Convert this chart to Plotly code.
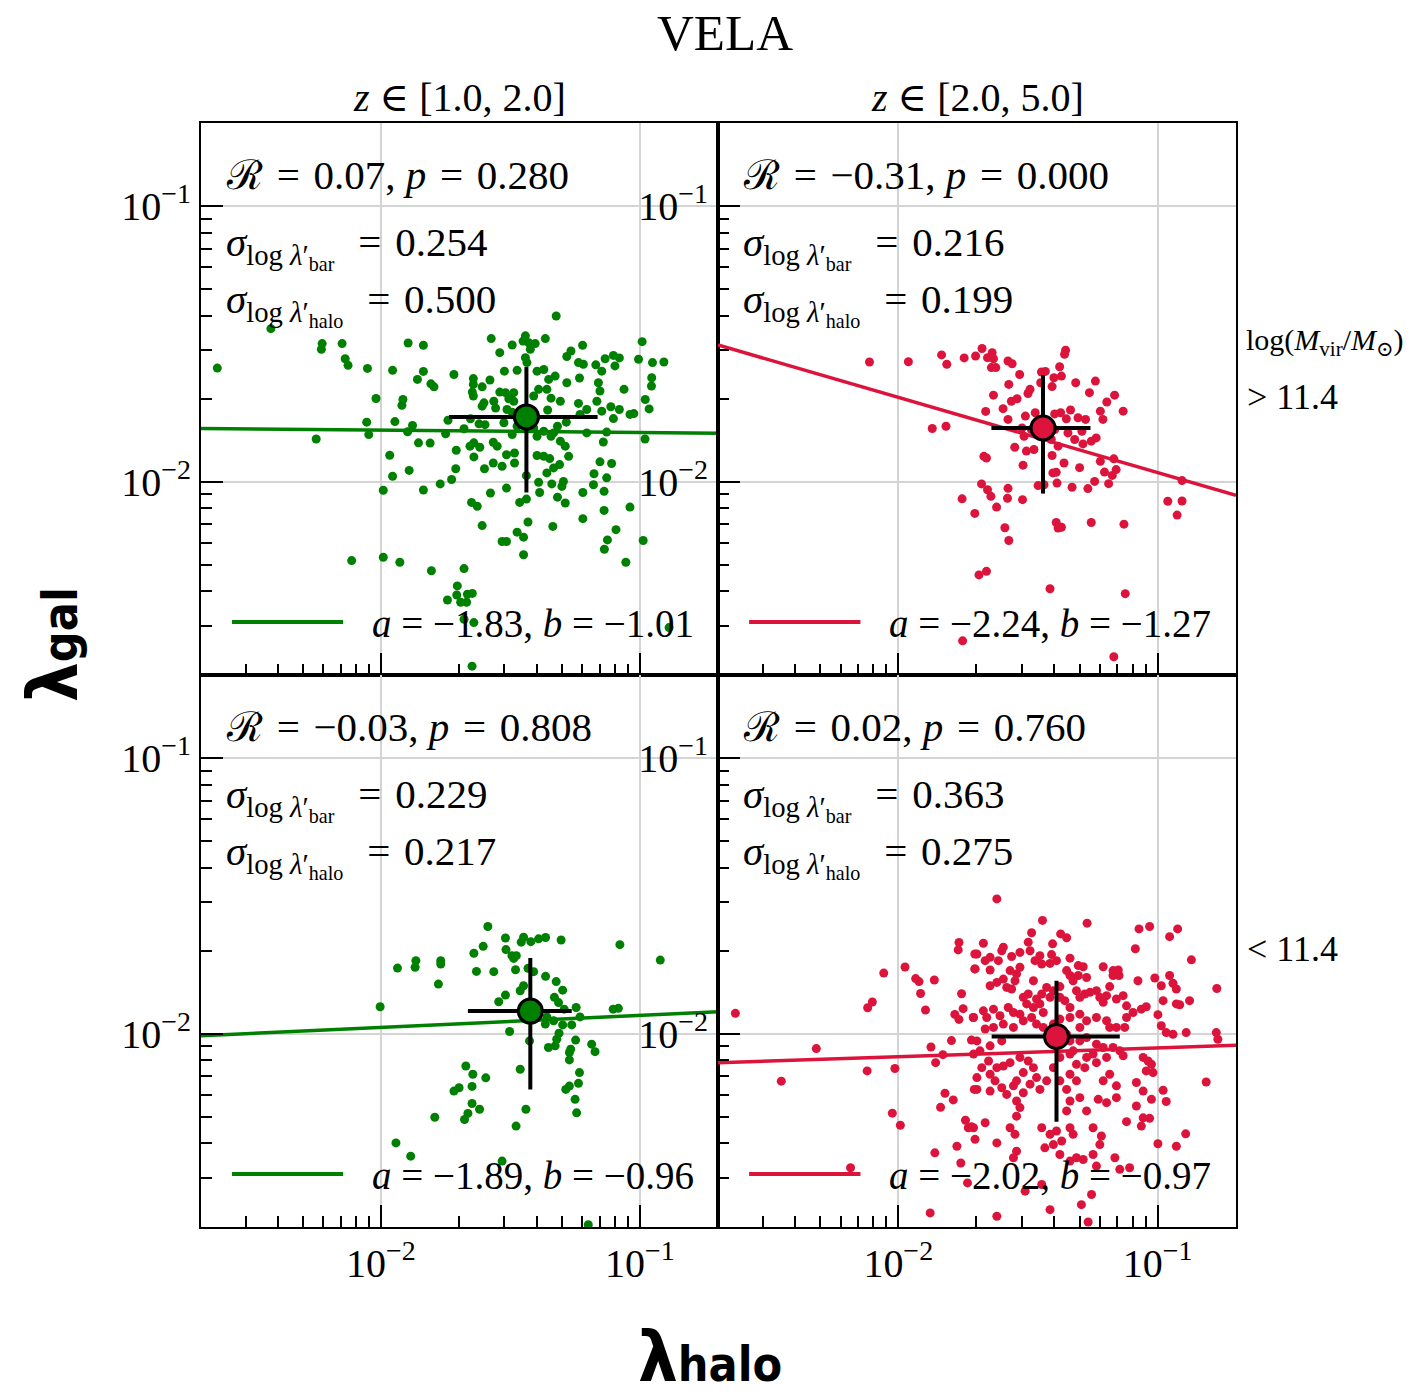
import numpy as np
import plotly.graph_objects as go

# ---------------- data (log10 values) ----------------
# top-left: z in [1,2], logM > 11.4
tl_pts = [
(-1.323,-1.399),(-2.425,-1.445),(-2.632,-1.588),(-2.227,-1.499),(-2.230,-1.520),(-2.150,-1.499),(-2.138,-1.554),(-2.127,-1.578),
(-2.052,-1.589),(-1.955,-1.596),(-1.895,-1.497),(-1.836,-1.505),(-2.019,-1.698),(-1.915,-1.702),(-1.919,-1.723),(-1.859,-1.629),
(-1.836,-1.600),(-1.807,-1.645),(-1.795,-1.656),(-1.718,-1.611),(-1.574,-1.481),(-1.493,-1.504),(-1.541,-1.532),(-1.442,-1.471),
(-1.451,-1.490),(-1.429,-1.496),(-1.404,-1.499),(-1.423,-1.520),(-1.442,-1.550),(-1.436,-1.568),(-1.365,-1.481),(-1.282,-1.546),
(-1.266,-1.526),(-1.221,-1.505),(-1.237,-1.568),(-1.218,-1.574),(-1.233,-1.624),(-1.170,-1.576),(-1.134,-1.554),(-1.102,-1.542),
(-1.079,-1.551),(-1.096,-1.580),(-1.005,-1.556),(-0.991,-1.492),(-0.951,-1.568),(-0.907,-1.566),(-0.954,-1.623),(-0.955,-1.653),
(-1.061,-1.665),(-0.979,-1.702),(-0.964,-1.736),(-1.038,-1.756),(-1.023,-1.753),(-1.079,-1.738),(-1.112,-1.728),(-1.102,-1.771),
(-1.147,-1.744),(-1.166,-1.708),(-1.154,-1.671),(-1.160,-1.641),(-1.147,-1.599),(-1.205,-1.738),(-1.237,-1.716),(-1.231,-1.756),
(-1.282,-1.641),(-1.307,-1.708),(-1.343,-1.697),(-1.359,-1.665),(-1.327,-1.617),(-1.352,-1.629),(-1.371,-1.593),(-1.397,-1.599),
(-1.391,-1.665),(-1.410,-1.689),(-1.356,-1.740),(-1.523,-1.599),(-1.474,-1.596),(-1.643,-1.626),(-1.643,-1.647),(-1.647,-1.675),
(-1.643,-1.689),(-1.609,-1.656),(-1.579,-1.631),(-1.541,-1.675),(-1.519,-1.677),(-1.487,-1.677),(-1.506,-1.699),(-1.487,-1.708),
(-1.602,-1.714),(-1.564,-1.708),(-1.609,-1.726),(-1.557,-1.733),(-1.513,-1.738),(-1.493,-1.748),(-1.654,-1.772),(-1.679,-1.808),
(-1.750,-1.826),(-1.741,-1.777),(-1.598,-1.793),(-1.621,-1.790),(-1.525,-1.786),(-1.474,-1.799),(-1.493,-1.829),(-1.410,-1.805),
(-1.397,-1.835),(-1.371,-1.817),(-1.333,-1.823),(-1.318,-1.799),(-1.284,-1.784),(-1.343,-1.835),(-1.307,-1.853),(-1.288,-1.871),
(-1.275,-1.908),(-1.205,-1.823),(-1.128,-1.820),(-1.141,-1.856),(-0.980,-1.845),(-1.897,-1.819),(-1.878,-1.796),(-1.946,-1.782),
(-2.055,-1.784),(-2.047,-1.829),(-2.250,-1.845),(-1.855,-1.859),(-1.810,-1.860),(-1.966,-1.904),(-1.955,-1.980),(-1.891,-1.959),
(-1.991,-2.031),(-1.836,-2.030),(-1.771,-2.008),(-1.727,-1.992),(-1.711,-1.953),(-1.709,-1.886),(-1.656,-1.871),(-1.641,-1.859),
(-1.618,-1.875),(-1.641,-1.910),(-1.566,-1.857),(-1.551,-1.871),(-1.515,-1.902),(-1.484,-1.896),(-1.566,-1.932),(-1.600,-1.953),
(-1.532,-1.944),(-1.484,-1.932),(-1.397,-1.905),(-1.371,-1.908),(-1.348,-1.916),(-1.359,-1.968),(-1.333,-1.950),(-1.310,-1.938),
(-1.391,-2.002),(-1.340,-2.008),(-1.295,-1.999),(-1.301,-2.017),(-1.387,-2.039),(-1.438,-1.978),(-1.577,-2.041),(-1.515,-2.023),
(-1.220,-2.039),(-1.179,-2.011),(-1.177,-1.971),(-1.154,-1.928),(-1.109,-1.934),(-1.128,-1.986),(-1.138,-2.035),(-1.038,-2.092),
(-1.138,-2.104),(-1.220,-2.134),(-1.650,-2.075),(-1.628,-2.089),(-1.609,-2.159),(-1.464,-2.075),(-1.438,-2.063),(-1.432,-2.146),
(-1.318,-2.056),(-1.288,-2.077),(-1.336,-2.162),(-1.474,-2.183),(-1.449,-2.201),(-1.532,-2.217),(-1.515,-2.217),(-1.449,-2.265),
(-1.092,-2.174),(-1.125,-2.211),(-1.137,-2.245),(-0.987,-2.213),(-1.054,-2.292),(-2.113,-2.286),(-1.991,-2.274),(-1.927,-2.292),
(-1.805,-2.323),(-1.679,-2.315),(-1.705,-2.378),(-1.707,-2.411),(-1.666,-2.408),(-1.647,-2.405),(-1.743,-2.429),(-1.692,-2.437),
(-1.669,-2.437),(-1.679,-2.499),(-1.641,-2.511),(-1.648,-2.669),(-0.887,-2.529),
]

# top-right: z in [2,5], logM > 11.4
tr_pts = [
(-2.111,-1.566),(-1.961,-1.565),(-1.833,-1.540),(-1.813,-1.574),(-1.746,-1.551),(-1.702,-1.544),(-1.677,-1.517),(-1.656,-1.550),
(-1.638,-1.532),(-1.633,-1.554),(-1.641,-1.586),(-1.624,-1.586),(-1.577,-1.562),(-1.561,-1.572),(-1.532,-1.611),(-1.574,-1.647),
(-1.633,-1.686),(-1.663,-1.745),(-1.596,-1.735),(-1.564,-1.708),(-1.542,-1.699),(-1.500,-1.680),(-1.492,-1.665),(-1.451,-1.641),
(-1.448,-1.602),(-1.433,-1.600),(-1.407,-1.655),(-1.400,-1.623),(-1.371,-1.617),(-1.378,-1.583),(-1.359,-1.538),(-1.355,-1.523),
(-1.316,-1.641),(-1.263,-1.677),(-1.240,-1.635),(-1.196,-1.711),(-1.166,-1.686),(-1.133,-1.744),(-1.221,-1.744),(-1.211,-1.774),
(-1.336,-1.740),(-1.307,-1.768),(-1.278,-1.774),(-1.352,-1.772),(-1.374,-1.750),(-1.397,-1.754),(-1.510,-1.762),(-1.472,-1.750),
(-1.577,-1.774),(-1.523,-1.805),(-1.515,-1.835),(-1.346,-1.823),(-1.292,-1.817),(-1.320,-1.847),(-1.288,-1.863),(-1.256,-1.853),
(-1.237,-1.841),(-1.551,-1.875),(-1.506,-1.889),(-1.477,-1.883),(-1.407,-1.905),(-1.361,-1.932),(-1.384,-1.871),(-1.670,-1.908),
(-1.660,-1.914),(-1.519,-1.940),(-1.301,-1.949),(-1.221,-1.926),(-1.169,-1.917),(-1.205,-1.965),(-1.175,-1.977),(-1.160,-1.956),
(-1.404,-1.968),(-1.391,-1.966),(-1.388,-2.005),(-1.330,-2.020),(-1.269,-2.025),(-1.243,-1.999),(-1.189,-2.007),(-0.906,-1.996),
(-1.869,-1.807),(-1.816,-1.799),(-1.679,-2.008),(-1.656,-2.029),(-1.643,-2.053),(-1.577,-2.024),(-1.579,-2.060),(-1.521,-2.065),
(-1.621,-2.092),(-1.754,-2.062),(-1.705,-2.115),(-1.461,-2.014),(-1.438,-2.011),(-0.961,-2.071),(-0.906,-2.070),(-0.925,-2.121),
(-1.391,-2.148),(-1.384,-2.168),(-1.371,-2.165),(-1.256,-2.148),(-1.130,-2.154),(-1.589,-2.167),(-1.574,-2.213),(-1.689,-2.338),
(-1.660,-2.325),(-1.415,-2.388),(-1.125,-2.406),(-1.752,-2.577),(-1.169,-2.635),(-1.487,-1.811),(-1.410,-1.847),(-1.397,-1.811),
]

# bottom-left: z in [1,2], logM < 11.4
bl_pts = [
(-1.587,-1.611),(-1.519,-1.653),(-1.449,-1.650),(-1.458,-1.668),(-1.421,-1.666),(-1.391,-1.656),(-1.364,-1.651),(-1.304,-1.660),
(-1.605,-1.683),(-1.641,-1.708),(-1.517,-1.695),(-1.494,-1.717),(-1.477,-1.717),(-1.487,-1.727),(-1.077,-1.677),(-0.921,-1.733),
(-1.936,-1.762),(-1.865,-1.735),(-1.868,-1.759),(-1.769,-1.735),(-1.769,-1.747),(-1.778,-1.820),(-1.631,-1.774),(-1.564,-1.775),
(-1.480,-1.768),(-1.432,-1.763),(-1.410,-1.775),(-1.364,-1.792),(-1.323,-1.811),(-1.298,-1.842),(-1.449,-1.826),(-1.462,-1.844),
(-1.519,-1.860),(-1.545,-1.884),(-1.330,-1.868),(-1.314,-1.887),(-1.292,-1.911),(-1.246,-1.905),(-1.231,-1.939),(-1.359,-1.939),
(-1.333,-1.953),(-1.298,-1.968),(-1.263,-1.968),(-1.365,-1.965),(-2.003,-1.902),(-1.103,-1.911),(-1.083,-1.908),(-1.503,-1.992),
(-1.426,-2.026),(-1.312,-1.998),(-1.321,-2.020),(-1.353,-2.050),(-1.327,-2.044),(-1.248,-2.023),(-1.267,-2.056),(-1.272,-2.068),
(-1.186,-2.038),(-1.173,-2.065),(-1.272,-2.095),(-1.462,-2.129),(-1.233,-2.141),(-1.237,-2.180),(-1.272,-2.190),(-1.286,-2.202),
(-1.250,-2.238),(-1.244,-2.287),(-1.672,-2.117),(-1.645,-2.147),(-1.595,-2.160),(-1.648,-2.191),(-1.718,-2.208),(-1.698,-2.196),
(-1.648,-2.253),(-1.619,-2.274),(-1.664,-2.289),(-1.677,-2.311),(-1.792,-2.303),(-1.440,-2.274),(-1.478,-2.335),(-1.942,-2.396),
(-1.885,-2.444),(-1.532,-2.462),(-1.199,-2.693),
]

# bottom-right: z in [2,5], logM < 11.4
br_pts = [
(-2.628,-1.926),(-2.451,-2.172),(-2.316,-2.054),(-2.184,-2.486),(-2.120,-2.135),(-2.118,-1.906),(-2.100,-1.885),(-2.056,-1.780),
(-2.013,-2.126),(-2.023,-2.288),(-1.992,-2.332),(-1.974,-1.758),(-1.933,-1.800),(-1.920,-1.811),(-1.914,-1.854),(-1.895,-1.914),
(-1.861,-1.805),(-1.874,-2.048),(-1.856,-2.105),(-1.828,-2.076),(-1.795,-2.025),(-1.820,-2.216),(-1.788,-2.240),(-1.837,-2.267),
(-1.766,-1.669),(-1.769,-1.696),(-1.756,-1.855),(-1.750,-1.909),(-1.782,-1.930),(-1.766,-1.948),(-1.859,-2.432),(-1.774,-2.408),
(-1.759,-2.469),(-1.741,-2.314),(-1.730,-2.341),(-1.718,-2.337),(-1.733,-2.541),(-1.877,-2.650),(-1.711,-1.941),(-1.718,-2.023),
(-1.705,-1.711),(-1.705,-1.765),(-1.707,-2.202),
(-1.620,-1.511),(-1.444,-1.589),(-1.272,-1.599),(-1.486,-1.634),(-1.374,-1.638),(-1.351,-1.652),(-1.072,-1.620),(-1.031,-1.611),
(-0.923,-1.620),(-0.954,-1.648),(-1.086,-1.692),(-0.870,-1.732),(-0.772,-1.836),(-1.672,-1.672),(-1.595,-1.686),(-1.601,-1.699),
(-1.499,-1.668),(-1.492,-1.699),(-1.531,-1.705),(-1.563,-1.720),(-1.697,-1.711),(-1.646,-1.723),(-1.665,-1.735),(-1.704,-1.765),
(-1.646,-1.769),(-1.614,-1.735),(-1.405,-1.674),(-1.409,-1.713),(-1.454,-1.717),(-1.473,-1.735),(-1.447,-1.747),(-1.415,-1.745),
(-1.390,-1.735),(-1.338,-1.726),(-1.306,-1.753),(-1.287,-1.757),(-1.274,-1.796),(-1.306,-1.789),(-1.338,-1.789),(-1.351,-1.771),
(-1.326,-1.808),(-1.210,-1.757),(-1.172,-1.771),(-1.152,-1.769),(-1.172,-1.789),(-1.149,-1.789),(-1.531,-1.759),(-1.544,-1.783),
(-1.569,-1.771),(-1.595,-1.802),(-1.620,-1.814),(-1.646,-1.826),(-1.582,-1.832),(-1.563,-1.838),(-1.550,-1.808),(-1.479,-1.808),
(-1.428,-1.832),(-1.447,-1.856),(-1.402,-1.844),(-1.377,-1.829),(-1.415,-1.868),(-1.467,-1.874),(-1.499,-1.856),(-1.518,-1.868),
(-1.505,-1.892),(-1.479,-1.905),(-1.454,-1.892),(-1.441,-1.923),(-1.377,-1.868),(-1.358,-1.880),(-1.338,-1.905),(-1.313,-1.844),
(-1.300,-1.868),(-1.281,-1.856),(-1.261,-1.850),(-1.236,-1.844),(-1.223,-1.868),(-1.185,-1.829),(-1.197,-1.862),(-1.210,-1.886),
(-1.159,-1.874),(-1.133,-1.862),(-1.120,-1.899),(-1.076,-1.808),(-1.011,-1.798),(-0.986,-1.826),(-0.954,-1.789),(-0.941,-1.817),
(-0.928,-1.838),(-1.044,-1.902),(-1.063,-1.911),(-1.095,-1.923),(-1.120,-1.941),(-0.999,-1.931),(-0.979,-1.880),(-0.928,-1.892),
(-0.915,-1.895),(-0.877,-1.880),(-0.986,-1.971),(-0.967,-1.996),(-0.941,-2.002),(-0.890,-1.996),(-0.774,-1.996),(-0.768,-2.020),
(-1.710,-1.941),(-1.672,-1.917),(-1.633,-1.911),(-1.659,-1.941),(-1.608,-1.935),(-1.576,-1.905),(-1.556,-1.923),(-1.531,-1.929),
(-1.595,-1.965),(-1.556,-1.977),(-1.633,-1.977),(-1.665,-1.983),(-1.697,-2.026),(-1.646,-2.044),(-1.601,-2.026),(-1.518,-1.953),
(-1.486,-1.941),(-1.467,-1.965),(-1.441,-1.977),(-1.402,-1.965),(-1.377,-1.947),(-1.338,-1.941),(-1.300,-1.929),(-1.274,-1.953),
(-1.236,-1.941),(-1.197,-1.953),(-1.185,-1.977),(-1.159,-1.977),(-1.127,-1.977),(-1.710,-2.074),(-1.685,-2.062),(-1.652,-2.099),
(-1.678,-2.123),(-1.697,-2.159),(-1.646,-2.147),(-1.620,-2.123),(-1.595,-2.117),(-1.627,-2.171),(-1.601,-2.196),(-1.646,-2.208),
(-1.697,-2.202),(-1.569,-2.105),(-1.531,-2.086),(-1.499,-2.099),(-1.479,-2.123),(-1.518,-2.141),(-1.544,-2.171),(-1.556,-2.189),
(-1.582,-2.220),(-1.518,-2.214),(-1.492,-2.183),(-1.467,-2.159),(-1.454,-2.202),(-1.428,-2.171),(-1.402,-2.123),(-1.377,-2.086),
(-1.338,-2.074),(-1.313,-2.111),(-1.326,-2.062),(-1.274,-2.086),(-1.249,-2.074),(-1.236,-2.105),(-1.281,-2.123),(-1.338,-2.147),
(-1.313,-2.171),(-1.351,-2.202),(-1.377,-2.171),(-1.300,-2.232),(-1.338,-2.244),(-1.351,-2.280),(-1.274,-2.280),(-1.229,-2.238),
(-1.197,-2.250),(-1.159,-2.232),(-1.159,-2.189),(-1.210,-2.171),(-1.185,-2.147),(-1.197,-2.086),(-1.146,-2.062),(-1.133,-2.080),
(-1.172,-2.050),(-1.056,-2.086),(-1.037,-2.099),(-1.024,-2.111),(-1.044,-2.135),(-1.018,-2.141),(-1.082,-2.177),(-1.056,-2.208),
(-1.024,-2.238),(-0.979,-2.205),(-0.967,-2.246),(-1.082,-2.262),(-1.056,-2.305),(-1.031,-2.307),(-1.120,-2.319),(-1.063,-2.335),
(-0.813,-2.175),(-0.892,-2.363),(-0.928,-2.408),(-0.999,-2.399),(-1.544,-2.244),(-1.531,-2.268),(-1.544,-2.299),(-1.569,-2.341),
(-1.550,-2.365),(-1.665,-2.323),(-1.710,-2.341),(-1.704,-2.383),(-1.620,-2.396),(-1.544,-2.426),(-1.556,-2.450),(-1.511,-2.571),
(-1.620,-2.662),(-1.447,-2.341),(-1.415,-2.365),(-1.390,-2.353),(-1.338,-2.341),(-1.326,-2.365),(-1.402,-2.402),(-1.435,-2.414),
(-1.370,-2.389),(-1.377,-2.438),(-1.338,-2.462),(-1.313,-2.450),(-1.287,-2.456),(-1.249,-2.438),(-1.217,-2.371),(-1.223,-2.402),
(-1.249,-2.341),(-1.236,-2.480),(-1.255,-2.583),(-1.294,-2.620),(-1.268,-2.683),(-1.415,-2.638),(-1.165,-2.450),(-1.146,-2.492),
(-1.108,-2.486),(-1.447,-2.547),(-1.351,-2.002),(-1.338,-2.026),(-1.300,-2.026),(-1.274,-2.014),(-1.236,-2.038),(-1.210,-2.050),
(-1.300,-1.977),
]

# mean points and bar extents (log10): [x_center, y_center, x_lo, x_hi, y_lo, y_hi]
mean_tl = [-1.438, -1.765, -1.737, -1.163, -2.039, -1.584]
mean_tr = [-1.442, -1.805, -1.641, -1.259, -2.043, -1.614]
mean_bl = [-1.423, -1.918, -1.664, -1.263, -2.202, -1.725]
mean_br = [-1.390, -2.010, -1.640, -1.146, -2.319, -1.808]

# fits: intercept a (label), slope of drawn line, label b
fit_a = [-1.83, -2.24, -1.89, -2.02]
fit_slope = [-0.0086, -0.273, 0.0435, 0.0316]
fit_b = [-1.01, -1.27, -0.96, -0.97]

R_vals = ["0.07", "\u22120.31", "\u22120.03", "0.02"]
p_vals = ["0.280", "0.000", "0.808", "0.760"]
sig_bar = ["0.254", "0.216", "0.229", "0.363"]
sig_halo = ["0.500", "0.199", "0.217", "0.275"]

col_titles = ["<i>z</i> \u2208 [1.0, 2.0]", "<i>z</i> \u2208 [2.0, 5.0]"]
row_labels = ["> 11.4", "< 11.4"]
major_ticks = [0.01, 0.1]
major_text = ["10<sup>\u22122</sup>", "10<sup>\u22121</sup>"]

GREEN = "#008000"
RED = "#dc143c"
colors = [GREEN, RED, GREEN, RED]
panels = [tl_pts, tr_pts, bl_pts, br_pts]
means = [mean_tl, mean_tr, mean_bl, mean_br]

X_RANGE = [-2.695, -0.698]
Y_RANGE = [-2.701, -0.699]

SERIF = "Liberation Serif, DejaVu Serif, serif"
SANS = "DejaVu Sans Condensed, DejaVu Sans, Noto Sans, sans-serif"
EQ = "\u2004=\u2004"

W, H = 1416, 1400
xdom = [[201 / W, 718 / W], [718 / W, 1236 / W]]
ydom = [[(H - 675) / H, (H - 123) / H], [(H - 1227) / H, (H - 675) / H]]

minor_vals = [m * 10.0 ** e for e in (-3, -2, -1) for m in range(2, 10)]

fig = go.Figure()

for i in range(4):
    k = i + 1
    xa = "x" if k == 1 else f"x{k}"
    ya = "y" if k == 1 else f"y{k}"
    pts = np.array(panels[i])
    fig.add_trace(go.Scatter(
        x=10 ** pts[:, 0], y=10 ** pts[:, 1], mode="markers", xaxis=xa, yaxis=ya,
        marker=dict(color=colors[i], size=9, line=dict(width=0)), showlegend=False, hoverinfo="skip"))
    lx = np.array(X_RANGE)
    ly = fit_a[i] + fit_slope[i] * lx
    fig.add_trace(go.Scatter(
        x=10 ** lx, y=10 ** ly, mode="lines", xaxis=xa, yaxis=ya,
        line=dict(color=colors[i], width=3.5), showlegend=False, hoverinfo="skip"))
    m = means[i]
    xc, yc = 10 ** m[0], 10 ** m[1]
    fig.add_trace(go.Scatter(
        x=[xc], y=[yc], mode="markers", xaxis=xa, yaxis=ya,
        marker=dict(color=colors[i], size=24, line=dict(color="black", width=3)),
        error_x=dict(type="data", symmetric=False, array=[10 ** m[3] - xc], arrayminus=[xc - 10 ** m[2]],
                     color="black", thickness=4, width=0),
        error_y=dict(type="data", symmetric=False, array=[10 ** m[5] - yc], arrayminus=[yc - 10 ** m[4]],
                     color="black", thickness=4, width=0),
        showlegend=False, hoverinfo="skip"))

axis_common = dict(
    type="log", showline=True, linecolor="black", linewidth=2, mirror=True,
    ticks="inside", ticklen=22, tickwidth=2, tickcolor="black",
    tickvals=major_ticks, ticktext=major_text,
    showgrid=True, gridcolor="#d4d4d4", gridwidth=2, zeroline=False,
    minor=dict(tickvals=minor_vals, ticks="inside", ticklen=11, tickwidth=1.5,
               tickcolor="black", showgrid=False),
    tickfont=dict(family=SERIF, size=40, color="black"),
)

layout = dict(width=W, height=H, margin=dict(l=0, r=0, t=0, b=0),
              paper_bgcolor="white", plot_bgcolor="white", showlegend=False)
for i in range(4):
    k = i + 1
    r, c = divmod(i, 2)
    xk = "xaxis" if k == 1 else f"xaxis{k}"
    yk = "yaxis" if k == 1 else f"yaxis{k}"
    layout[xk] = dict(axis_common, range=X_RANGE, domain=xdom[c],
                      anchor="y" if k == 1 else f"y{k}", showticklabels=(r == 1))
    layout[yk] = dict(axis_common, range=Y_RANGE, domain=ydom[r],
                      anchor="x" if k == 1 else f"x{k}", showticklabels=True)
fig.update_layout(**layout)

ann = []
shapes = []
for i in range(4):
    k = i + 1
    xr = "x domain" if k == 1 else f"x{k} domain"
    yr = "y domain" if k == 1 else f"y{k} domain"
    f = dict(family=SERIF, size=41, color="black")
    ann.append(dict(xref=xr, yref=yr, x=0.045, y=0.905, xanchor="left", yanchor="middle",
                    text=f"\u211b{EQ}{R_vals[i]}, <i>p</i>{EQ}{p_vals[i]}", showarrow=False, font=f))
    ann.append(dict(xref=xr, yref=yr, x=0.045, y=0.775, xanchor="left", yanchor="middle",
                    text=f"<i>\u03c3</i><sub>log <i>\u03bb</i>\u2032<sub>bar</sub></sub> {EQ}{sig_bar[i]}",
                    showarrow=False, font=f))
    ann.append(dict(xref=xr, yref=yr, x=0.045, y=0.673, xanchor="left", yanchor="middle",
                    text=f"<i>\u03c3</i><sub>log <i>\u03bb</i>\u2032<sub>halo</sub></sub> {EQ}{sig_halo[i]}",
                    showarrow=False, font=f))
    a_txt = f"{fit_a[i]:.2f}".replace("-", "\u2212")
    b_txt = f"{fit_b[i]:.2f}".replace("-", "\u2212")
    ann.append(dict(xref=xr, yref=yr, x=0.327, y=0.094, xanchor="left", yanchor="middle",
                    text=f"<i>a</i> = {a_txt}, <i>b</i> = {b_txt}", showarrow=False,
                    font=dict(family=SERIF, size=39, color="black")))
    shapes.append(dict(type="line", xref=xr, yref=yr, x0=0.060, x1=0.275, y0=0.096, y1=0.096,
                       line=dict(color=colors[i], width=4)))

ann.append(dict(xref="paper", yref="paper", x=725 / W, y=(H - 33) / H, text="VELA", showarrow=False,
                xanchor="center", yanchor="middle", font=dict(family=SERIF, size=51, color="black")))
for c in range(2):
    ann.append(dict(xref="paper", yref="paper", x=(xdom[c][0] + xdom[c][1]) / 2, y=(H - 97) / H,
                    text=col_titles[c], showarrow=False, xanchor="center", yanchor="middle",
                    font=dict(family=SERIF, size=40, color="black")))
ann.append(dict(xref="paper", yref="paper", x=1244 / W, y=(H - 342) / H,
                text="log(<i>M</i><sub>vir</sub>/<i>M</i><sub>\u2299</sub>)", showarrow=False,
                xanchor="left", yanchor="middle", font=dict(family=SERIF, size=30, color="black")))
ann.append(dict(xref="paper", yref="paper", x=1245 / W, y=(H - 397) / H, text=row_labels[0],
                showarrow=False, xanchor="left", yanchor="middle",
                font=dict(family=SERIF, size=36, color="black")))
ann.append(dict(xref="paper", yref="paper", x=1245 / W, y=(H - 949) / H, text=row_labels[1],
                showarrow=False, xanchor="left", yanchor="middle",
                font=dict(family=SERIF, size=36, color="black")))
ann.append(dict(xref="paper", yref="paper", x=53 / W, y=(H - 645) / H,
                text="<b>\u03bb<span style='font-size:48px'>gal</span></b>", textangle=-90,
                showarrow=False, xanchor="center", yanchor="middle",
                font=dict(family=SANS, size=70, color="black")))
ann.append(dict(xref="paper", yref="paper", x=710 / W, y=0.0,
                text="<b>\u03bb<span style='font-size:48px'>halo</span></b>",
                showarrow=False, xanchor="center", yanchor="bottom",
                font=dict(family=SANS, size=70, color="black")))

fig.update_layout(annotations=ann, shapes=shapes)
fig.write_html("out.html")
